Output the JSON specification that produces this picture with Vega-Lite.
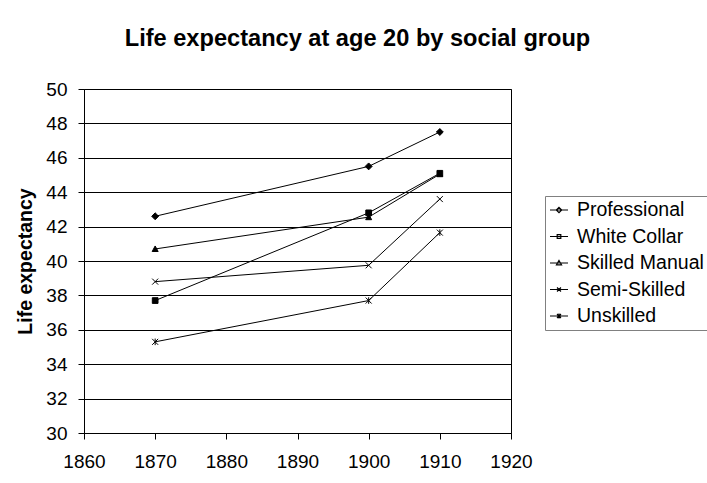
{
  "$schema": "https://vega.github.io/schema/vega-lite/v6.json",
  "width": 427,
  "height": 344,
  "autosize": {"type": "none"},
  "padding": {"left": 84, "top": 89, "right": 196, "bottom": 50},
  "background": "white",
  "title": {
    "text": "Life expectancy at age 20 by social group",
    "font": "Liberation Sans",
    "fontSize": 23.6,
    "fontWeight": "bold",
    "color": "black",
    "anchor": "middle",
    "frame": "group",
    "dx": 60,
    "offset": 29
  },
  "data": {
    "values": [
      {"group": "Professional", "year": 1870, "value": 42.6},
      {"group": "Professional", "year": 1900, "value": 45.5},
      {"group": "Professional", "year": 1910, "value": 47.5},
      {"group": "Skilled Manual", "year": 1870, "value": 40.7},
      {"group": "Skilled Manual", "year": 1900, "value": 42.55},
      {"group": "Skilled Manual", "year": 1910, "value": 45.05},
      {"group": "White Collar", "year": 1870, "value": 37.7},
      {"group": "White Collar", "year": 1900, "value": 42.8},
      {"group": "White Collar", "year": 1910, "value": 45.1},
      {"group": "Semi-Skilled", "year": 1870, "value": 38.8},
      {"group": "Semi-Skilled", "year": 1900, "value": 39.75},
      {"group": "Semi-Skilled", "year": 1910, "value": 43.6},
      {"group": "Unskilled", "year": 1870, "value": 35.3},
      {"group": "Unskilled", "year": 1900, "value": 37.7},
      {"group": "Unskilled", "year": 1910, "value": 41.65}
    ]
  },
  "encoding": {
    "x": {
      "field": "year",
      "type": "quantitative",
      "scale": {"domain": [1860, 1920], "nice": false, "zero": false},
      "axis": {
        "values": [1860, 1870, 1880, 1890, 1900, 1910, 1920],
        "format": "d",
        "grid": false,
        "title": null,
        "tickSize": 6,
        "labelPadding": 13,
        "labelFlush": false,
        "labelOverlap": false
      }
    },
    "y": {
      "field": "value",
      "type": "quantitative",
      "scale": {"domain": [30, 50], "nice": false, "zero": false},
      "axis": {
        "values": [30, 32, 34, 36, 38, 40, 42, 44, 46, 48, 50],
        "grid": true,
        "title": "Life expectancy",
        "titleFontSize": 19.5,
        "titleFontWeight": "bold",
        "titlePadding": 10,
        "tickSize": 6,
        "labelPadding": 11,
        "labelFlush": false,
        "labelOverlap": false
      }
    }
  },
  "layer": [
    {
      "mark": {"type": "line", "color": "black", "strokeWidth": 1},
      "encoding": {"detail": {"field": "group", "type": "nominal"}}
    },
    {
      "mark": {"type": "point", "filled": true, "color": "black", "stroke": "black", "strokeWidth": 1, "size": 36, "opacity": 1},
      "encoding": {
        "shape": {
          "field": "group",
          "type": "nominal",
          "scale": {
            "domain": ["Professional", "White Collar", "Skilled Manual", "Semi-Skilled", "Unskilled"],
            "range": [
              "M0,-1.15L1.15,0L0,1.15L-1.15,0Z",
              "M-0.95,-0.95H0.95V0.95H-0.95Z",
              "M0,-1L1,0.85H-1Z",
              "M-1,-1L1,1M1,-1L-1,1",
              "M-1,-1L1,1M1,-1L-1,1M0,-1.1V1.1"
            ]
          },
          "legend": null
        }
      }
    },
    {
      "mark": {"type": "point", "filled": false, "color": "black", "strokeWidth": 1, "size": 0, "opacity": 1},
      "encoding": {
        "shape": {
          "field": "group",
          "type": "nominal",
          "scale": {
            "domain": ["Professional", "White Collar", "Skilled Manual", "Semi-Skilled", "Unskilled"],
            "range": [
              "M-1,0H1M0,-0.3L0.3,0L0,0.3L-0.3,0Z",
              "M-1,0H1M-0.2,-0.2H0.2V0.2H-0.2Z",
              "M-1,0H1M0,-0.28L0.28,0.2H-0.28Z",
              "M-1,0H1M-0.22,-0.22L0.22,0.22M0.22,-0.22L-0.22,0.22",
              "M-1,0H1M-0.22,-0.22L0.22,0.22M0.22,-0.22L-0.22,0.22M0,-0.28V0.28"
            ]
          },
          "legend": {
            "title": null,
            "orient": "none",
            "legendX": 461,
            "legendY": 107,
            "strokeColor": "#808080",
            "padding": 4,
            "rowPadding": 6.5,
            "symbolSize": 324,
            "labelFont": "Liberation Sans",
            "labelFontSize": 19.5,
            "labelColor": "black",
            "labelOffset": 8,
            "labelLimit": 300,
            "symbolStrokeWidth": 1.2,
            "symbolStrokeColor": "black",
            "symbolFillColor": "black",
            "symbolOpacity": 1
          }
        }
      }
    }
  ],
  "resolve": {"scale": {"shape": "independent"}},
  "config": {
    "view": {"stroke": "black", "strokeWidth": 1},
    "axis": {
      "domainColor": "black",
      "domainWidth": 1,
      "tickColor": "black",
      "tickWidth": 1,
      "gridColor": "black",
      "gridOpacity": 1,
      "gridWidth": 1,
      "labelFont": "Liberation Sans",
      "labelFontSize": 19,
      "labelColor": "black",
      "titleFont": "Liberation Sans",
      "titleColor": "black"
    }
  }
}
